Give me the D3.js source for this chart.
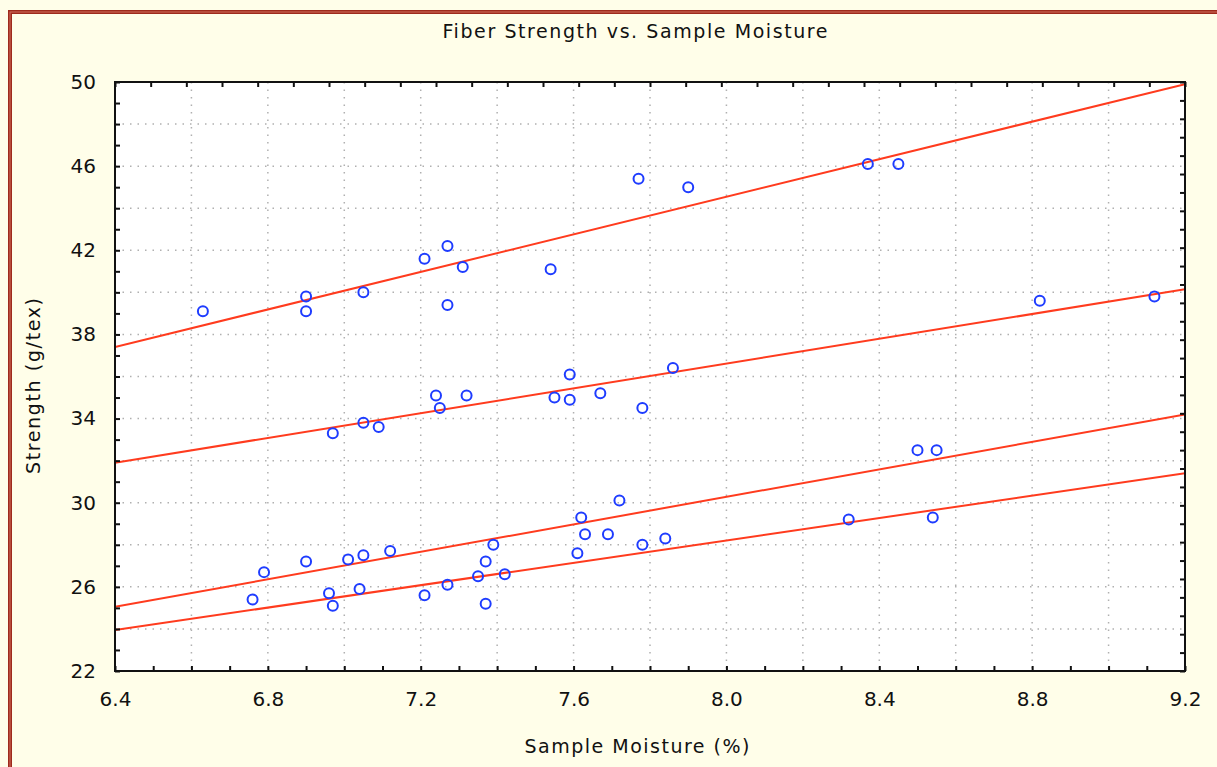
<!DOCTYPE html>
<meta charset="utf-8">
<html>
<head>
    <title>Fiber Strength vs. Sample Moisture</title>
    <script src="https://d3js.org/d3.v7.min.js"></script>
</head>
<style>
    body { margin: 0; background: #fffee9; }
    text { font-family: "DejaVu Sans", Arial, sans-serif; fill: #111; }
</style>
<body>
<div id="chartdiv"></div>
<script>

// data
var moisture = [6.63, 6.90, 6.90, 7.05, 7.21, 7.27, 7.31, 7.27, 7.54, 7.77, 7.90, 8.37, 8.45, 8.82, 9.12,
    6.97, 7.05, 7.09, 7.24, 7.25, 7.32, 7.55, 7.59, 7.59, 7.67, 7.78, 7.86,
    6.76, 6.79, 6.90, 6.96, 6.97, 7.01, 7.04, 7.05, 7.12, 7.21, 7.27, 7.35, 7.37, 7.37, 7.39, 7.42,
    7.61, 7.62, 7.63, 7.69, 7.72, 7.78, 7.84, 8.32, 8.50, 8.55, 8.54];
var strength = [39.1, 39.8, 39.1, 40.0, 41.6, 42.2, 41.2, 39.4, 41.1, 45.4, 45.0, 46.1, 46.1, 39.6, 39.8,
    33.3, 33.8, 33.6, 35.1, 34.5, 35.1, 35.0, 36.1, 34.9, 35.2, 34.5, 36.4,
    25.4, 26.7, 27.2, 25.7, 25.1, 27.3, 25.9, 27.5, 27.7, 25.6, 26.1, 26.5, 27.2, 25.2, 28.0, 26.6,
    27.6, 29.3, 28.5, 28.5, 30.1, 28.0, 28.3, 29.2, 32.5, 32.5, 29.3];

// fitted lines: value at each end of the x range
var fitX = [6.4, 9.2];
var fitLines = [
    [37.4, 49.9],
    [31.9, 40.15],
    [25.05, 34.2],
    [23.95, 31.4]
];

var xTicks = [6.4, 6.8, 7.2, 7.6, 8.0, 8.4, 8.8, 9.2];
var yTicks = [22, 26, 30, 34, 38, 42, 46, 50];
var xGrid = [6.6, 6.8, 7.0, 7.2, 7.4, 7.6, 7.8, 8.0, 8.2, 8.4, 8.6, 8.8, 9.0];
var yGrid = [24, 26, 28, 30, 32, 34, 36, 38, 40, 42, 44, 46, 48];

// layout
const W = 1217, H = 767;
const pL = 115, pR = 1185, pT = 82, pB = 671;
const colorLine = "#ff3b1e";
const colorPt = "#1e3cff";

var x = d3.scaleLinear().domain([6.4, 9.2]).range([pL, pR]);
var y = d3.scaleLinear().domain([22, 50]).range([pB, pT]);

const svg = d3.select("#chartdiv").append("svg")
    .attr("width", W).attr("height", H);

svg.append("rect").attr("width", W).attr("height", H).attr("fill", "#fffee9");

// dark red frame (runs off the right and bottom edge)
svg.append("rect")
    .attr("x", 10).attr("y", 12)
    .attr("width", W + 20).attr("height", H + 20)
    .attr("fill", "none").attr("stroke", "#9e2a1c").attr("stroke-width", 4);
svg.append("rect")
    .attr("x", 10).attr("y", 12)
    .attr("width", W + 20).attr("height", H + 20)
    .attr("fill", "none").attr("stroke", "#d2705e").attr("stroke-width", 1);

// plot area
svg.append("rect")
    .attr("x", pL).attr("y", pT)
    .attr("width", pR - pL).attr("height", pB - pT)
    .attr("fill", "white");

svg.append("clipPath").attr("id", "plotclip")
    .append("rect")
    .attr("x", pL).attr("y", pT)
    .attr("width", pR - pL).attr("height", pB - pT);

// dotted grid
svg.append("g").selectAll("line")
    .data(xGrid).enter().append("line")
    .attr("x1", d => x(d)).attr("x2", d => x(d))
    .attr("y1", pT).attr("y2", pB)
    .attr("stroke", "#b0b0b0").attr("stroke-width", 1.5)
    .attr("stroke-dasharray", "1.5,6");
svg.append("g").selectAll("line")
    .data(yGrid).enter().append("line")
    .attr("x1", pL).attr("x2", pR)
    .attr("y1", d => y(d)).attr("y2", d => y(d))
    .attr("stroke", "#b0b0b0").attr("stroke-width", 1.5)
    .attr("stroke-dasharray", "1.5,6");

// regression lines
var line = d3.line().x(d => x(d[0])).y(d => y(d[1]));
svg.append("g").attr("clip-path", "url(#plotclip)")
    .selectAll("path")
    .data(fitLines).enter().append("path")
    .attr("d", d => line(fitX.map((v, i) => [v, d[i]])))
    .attr("fill", "none").attr("stroke", colorLine).attr("stroke-width", 2);

// points
svg.append("g").selectAll("circle")
    .data(moisture).enter().append("circle")
    .attr("cx", d => x(d))
    .attr("cy", (d, i) => y(strength[i]))
    .attr("r", 5)
    .attr("fill", "none").attr("stroke", colorPt).attr("stroke-width", 2);

// inward tick marks
var minorX = d3.range(0, 29).map(i => 6.4 + i * 0.1);
var minorY = d3.range(22, 51);
var topScale = d3.scaleLinear().domain([0, 30]).range([pL, pR]);
var rightScale = d3.scaleLinear().domain([0, 32]).range([pT, pB]);

function tickAxis(axis, tr) {
    var g = svg.append("g").attr("transform", tr).call(axis);
    g.selectAll("text").remove();
    g.select(".domain").remove();
    g.selectAll("line").attr("stroke", "#111").attr("stroke-width", 2);
    return g;
}
tickAxis(d3.axisTop(x).tickValues(minorX).tickSize(5), "translate(0," + pB + ")");
tickAxis(d3.axisRight(y).tickValues(minorY).tickSize(5), "translate(" + pL + ",0)");
tickAxis(d3.axisBottom(topScale).ticks(30).tickSize(5), "translate(0," + pT + ")");
tickAxis(d3.axisLeft(rightScale).ticks(32).tickSize(5), "translate(" + pR + ",0)");

// frame of the plot
svg.append("rect")
    .attr("x", pL).attr("y", pT)
    .attr("width", pR - pL).attr("height", pB - pT)
    .attr("fill", "none").attr("stroke", "#111").attr("stroke-width", 2);

// tick labels
var axB = svg.append("g").attr("transform", "translate(0," + pB + ")")
    .call(d3.axisBottom(x).tickValues(xTicks).tickSize(0).tickPadding(21).tickFormat(d3.format(".1f")));
axB.select(".domain").remove();
axB.selectAll("text").style("font-size", "20px").style("font-family", "DejaVu Sans").attr("fill", "#111");

var axL = svg.append("g").attr("transform", "translate(" + pL + ",0)")
    .call(d3.axisLeft(y).tickValues(yTicks).tickSize(0).tickPadding(19));
axL.select(".domain").remove();
axL.selectAll("text").style("font-size", "20px").style("font-family", "DejaVu Sans").attr("fill", "#111");

// titles
svg.append("text")
    .attr("x", 635).attr("y", 38)
    .attr("text-anchor", "middle")
    .attr("textLength", 385).attr("lengthAdjust", "spacing")
    .style("font-size", "19px")
    .text("Fiber Strength vs. Sample Moisture");

svg.append("text")
    .attr("x", 637).attr("y", 753)
    .attr("text-anchor", "middle")
    .attr("textLength", 225).attr("lengthAdjust", "spacing")
    .style("font-size", "19px")
    .text("Sample Moisture (%)");

svg.append("text")
    .attr("transform", "translate(40,386) rotate(-90)")
    .attr("text-anchor", "middle")
    .attr("textLength", 176).attr("lengthAdjust", "spacing")
    .style("font-size", "19px")
    .text("Strength (g/tex)");

</script>
</body>
</html>
